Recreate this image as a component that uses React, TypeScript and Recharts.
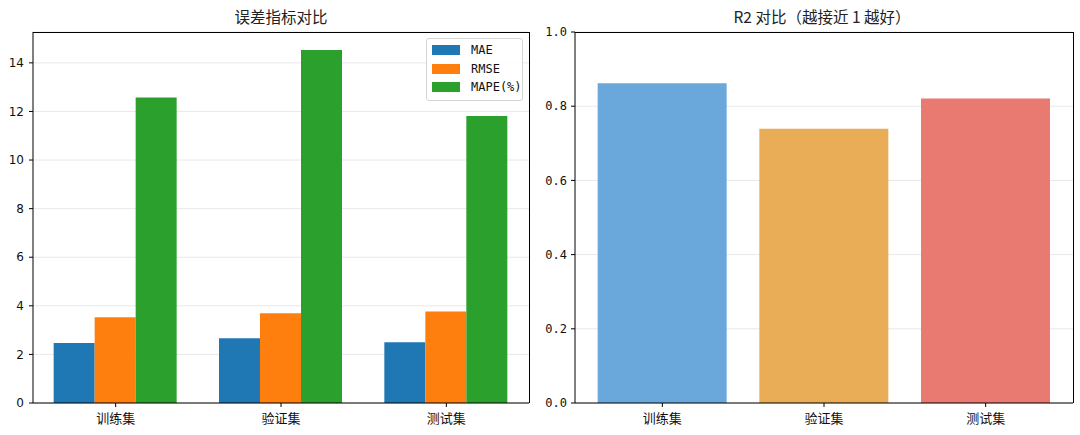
import { Bar, BarChart, CartesianGrid, Cell, Legend, XAxis, YAxis } from "recharts";

const splits = ["训练集", "验证集", "测试集"];
const maeValues = [2.47, 2.66, 2.5];
const rmseValues = [3.53, 3.69, 3.77];
const mapeValues = [12.57, 14.53, 11.81];
const r2Values = [0.862, 0.739, 0.821];
const seriesNames = ["MAE", "RMSE", "MAPE(%)"];
const errorTicks = [0, 2, 4, 6, 8, 10, 12, 14];
const r2Ticks = [0, 0.2, 0.4, 0.6, 0.8, 1.0];

const errorMax = 15.27;
const r2Colors = ["#6aa8dc", "#e8ad56", "#e87a72"];

const errorData = splits.map((name, i) => ({
  name,
  mae: maeValues[i],
  rmse: rmseValues[i],
  mape: mapeValues[i],
}));

const r2Data = splits.map((name, i) => ({ name, r2: r2Values[i] }));

const cjk = "'Noto Sans CJK SC', 'Noto Sans', sans-serif";
const mono = "'DejaVu Sans Mono', 'Liberation Mono', monospace";

function ErrorLegend({ payload = [] }: any) {
  const items = [...payload].sort((a: any, b: any) => seriesNames.indexOf(a.value) - seriesNames.indexOf(b.value));
  return (
    <div
      style={{
        border: "1px solid #d4d4d4",
        borderRadius: 3,
        background: "rgba(255,255,255,0.85)",
        padding: "2px 0 3px 0",
        boxSizing: "border-box",
        width: 97,
      }}
    >
      {items.map((item: any) => (
        <div key={item.value} style={{ display: "flex", alignItems: "center", height: 18.5 }}>
          <span style={{ display: "inline-block", width: 28, height: 10, marginLeft: 5, background: item.color }} />
          <span style={{ marginLeft: 11, fontFamily: mono, fontSize: 12, color: "#111" }}>{item.value}</span>
        </div>
      ))}
    </div>
  );
}

function ChartTitle({ text, center }: { text: string; center: number }) {
  return (
    <div
      style={{
        position: "absolute",
        top: 6,
        left: center - 150,
        width: 300,
        textAlign: "center",
        fontFamily: cjk,
        fontSize: 15.5,
        lineHeight: "20px",
        color: "#222",
      }}
    >
      {text}
    </div>
  );
}

// top + right spines (matplotlib draws a full box round the axes)
function Spines({ left, right }: { left: number; right: number }) {
  return (
    <div
      style={{
        position: "absolute",
        left,
        top: 31.5,
        width: right - left,
        height: 371,
        borderTop: "1px solid #000",
        borderRight: "1px solid #000",
        boxSizing: "border-box",
        pointerEvents: "none",
      }}
    />
  );
}

export default function App() {
  return (
    <div style={{ position: "absolute", left: 0, top: 0, width: 1080, height: 435, background: "#fff" }}>
      <ChartTitle text="误差指标对比" center={281} />
      <ChartTitle text="R2 对比（越接近 1 越好）" center={822} />

      <div style={{ position: "absolute", left: 0, top: 0 }}>
        <BarChart
          width={540}
          height={435}
          data={errorData}
          margin={{ top: 32, right: 11, left: 0, bottom: 0 }}
          barGap={0}
          barCategoryGap="12.5%"
        >
          <CartesianGrid vertical={false} stroke="#e8e8e8" />
          <XAxis
            dataKey="name"
            height={32}
            tickSize={4}
            tickMargin={7}
            axisLine={{ stroke: "#000" }}
            tickLine={{ stroke: "#000" }}
            tick={{ fontFamily: cjk, fontSize: 13, fill: "#111" }}
          />
          <YAxis
            width={33}
            domain={[0, errorMax]}
            ticks={errorTicks}
            tickSize={4}
            tickMargin={5}
            axisLine={{ stroke: "#000" }}
            tickLine={{ stroke: "#000" }}
            tick={{ fontFamily: "'DejaVu Sans', sans-serif", fontSize: 12, fill: "#111" }}
          />
          <Bar dataKey="mae" name={seriesNames[0]} fill="#1f77b4" isAnimationActive={false} />
          <Bar dataKey="rmse" name={seriesNames[1]} fill="#ff7f0e" isAnimationActive={false} />
          <Bar dataKey="mape" name={seriesNames[2]} fill="#2ca02c" isAnimationActive={false} />
          <Legend
            layout="horizontal"
            verticalAlign="middle"
            align="center"
            content={<ErrorLegend />}
            wrapperStyle={{ top: 38, left: 426, width: 97 }}
          />
        </BarChart>
      </div>
      <Spines left={33} right={529.5} />

      <div style={{ position: "absolute", left: 540, top: 0 }}>
        <BarChart
          width={540}
          height={435}
          data={r2Data}
          margin={{ top: 32, right: 7, left: 0, bottom: 0 }}
          barCategoryGap="10%"
        >
          <CartesianGrid vertical={false} stroke="#e8e8e8" />
          <XAxis
            dataKey="name"
            height={32}
            padding={{ left: 6.5, right: 6.5 }}
            tickSize={4}
            tickMargin={7}
            axisLine={{ stroke: "#000" }}
            tickLine={{ stroke: "#000" }}
            tick={{ fontFamily: cjk, fontSize: 13, fill: "#111" }}
          />
          <YAxis
            width={35}
            domain={[0, 1]}
            ticks={r2Ticks}
            tickFormatter={(v: number) => v.toFixed(1)}
            tickSize={4}
            tickMargin={4}
            axisLine={{ stroke: "#000" }}
            tickLine={{ stroke: "#000" }}
            tick={{ fontFamily: mono, fontSize: 12, fill: "#111" }}
          />
          <Bar dataKey="r2" name="R2" isAnimationActive={false}>
            {r2Data.map((item, i) => (
              <Cell key={item.name} fill={r2Colors[i]} />
            ))}
          </Bar>
        </BarChart>
      </div>
      <Spines left={575} right={1073.5} />
    </div>
  );
}
